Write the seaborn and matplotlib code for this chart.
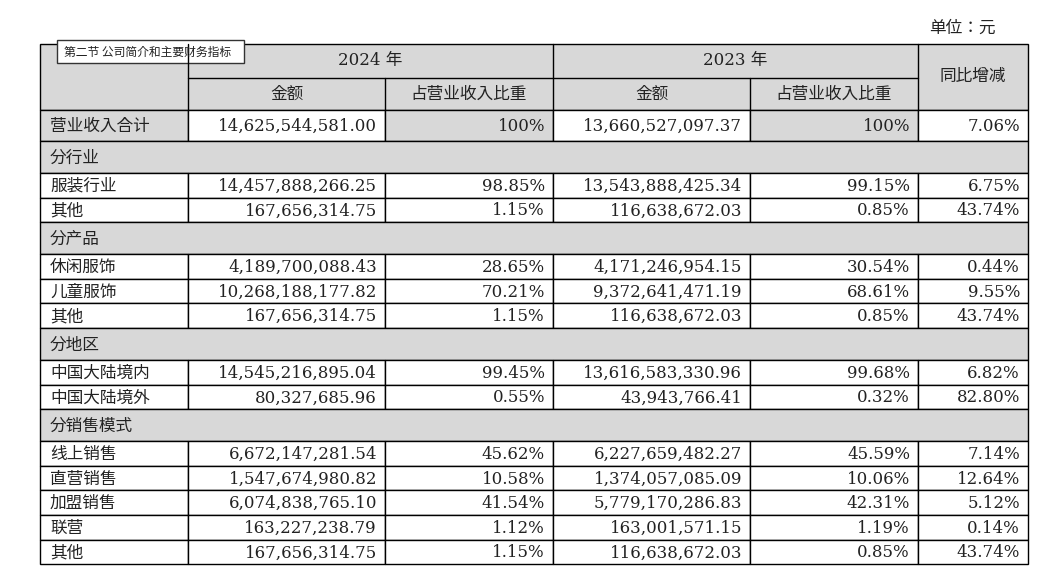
import matplotlib.pyplot as plt
import matplotlib.patches as patches
import seaborn as sns

sns.set_theme(style='white')
CJK = ['Noto Sans CJK SC', 'Noto Sans CJK JP', 'Noto Sans CJK TC', 'Noto Sans CJK KR']
plt.rcParams['font.family'] = ['DejaVu Serif'] + CJK

# Table data
row_labels = ['营业收入合计', '分行业', '服装行业', '其他', '分产品', '休闲服饰', '儿童服饰', '其他',
              '分地区', '中国大陆境内', '中国大陆境外', '分销售模式', '线上销售', '直营销售',
              '加盟销售', '联营', '其他']
amount_2024 = ['14,625,544,581.00', '', '14,457,888,266.25', '167,656,314.75', '',
               '4,189,700,088.43', '10,268,188,177.82', '167,656,314.75', '',
               '14,545,216,895.04', '80,327,685.96', '', '6,672,147,281.54',
               '1,547,674,980.82', '6,074,838,765.10', '163,227,238.79', '167,656,314.75']
share_2024 = ['100%', '', '98.85%', '1.15%', '', '28.65%', '70.21%', '1.15%', '',
              '99.45%', '0.55%', '', '45.62%', '10.58%', '41.54%', '1.12%', '1.15%']
amount_2023 = ['13,660,527,097.37', '', '13,543,888,425.34', '116,638,672.03', '',
               '4,171,246,954.15', '9,372,641,471.19', '116,638,672.03', '',
               '13,616,583,330.96', '43,943,766.41', '', '6,227,659,482.27',
               '1,374,057,085.09', '5,779,170,286.83', '163,001,571.15', '116,638,672.03']
share_2023 = ['100%', '', '99.15%', '0.85%', '', '30.54%', '68.61%', '0.85%', '',
              '99.68%', '0.32%', '', '45.59%', '10.06%', '42.31%', '1.19%', '0.85%']
yoy = ['7.06%', '', '6.75%', '43.74%', '', '0.44%', '9.55%', '43.74%', '',
       '6.82%', '82.80%', '', '7.14%', '12.64%', '5.12%', '0.14%', '43.74%']
section_idx = [1, 4, 8, 11]

# Layout in pixels
col_x = [40, 188, 385, 553, 750, 918, 1028]
top, head_mid, head_bot = 44, 78, 110
GRAY = '#d8d8d8'

fig = plt.figure(figsize=(10.5, 5.84), dpi=100)
ax = fig.add_axes([0, 0, 1, 1])
ax.set_xlim(0, 1050)
ax.set_ylim(584, 0)
ax.axis('off')

def cell(x0, y0, x1, y1, fill):
    ax.add_patch(patches.Rectangle((x0, y0), x1 - x0, y1 - y0, facecolor=fill,
                                   edgecolor='black', linewidth=1))

def text(x, y, s, ha='center', size=12):
    ax.text(x, y, s, ha=ha, va='center', fontsize=size, color='#222222')

# Header
cell(col_x[0], top, col_x[-1], head_bot, GRAY)
for xv in (col_x[1], col_x[3], col_x[5]):
    ax.plot([xv, xv], [top, head_bot], color='black', lw=1)
ax.plot([col_x[1], col_x[5]], [head_mid, head_mid], color='black', lw=1)
for xv in (col_x[2], col_x[4]):
    ax.plot([xv, xv], [head_mid, head_bot], color='black', lw=1)
text((col_x[1] + col_x[3]) / 2, 61, '2024 年')
text((col_x[3] + col_x[5]) / 2, 61, '2023 年')
for i, lab in enumerate(['金额', '占营业收入比重', '金额', '占营业收入比重']):
    text((col_x[i + 1] + col_x[i + 2]) / 2, 94, lab)
text((col_x[5] + col_x[6]) / 2, 77, '同比增减')

ax.text(996, 28, '单位：元', ha='right', va='center', fontsize=12, color='#222222')
ax.add_patch(patches.Rectangle((57, 40), 187, 23, facecolor='white', edgecolor='#333333', lw=1))
ax.text(64, 52, '第二节 公司简介和主要财务指标', ha='left', va='center', fontsize=8.5,
        family=CJK, color='#222222')

# Body
y = head_bot
for i, lab in enumerate(row_labels):
    if i == 0:
        h = 31
    elif i in section_idx:
        h = 32
    else:
        h = 24.6
    yc = y + h / 2 + 1
    if i in section_idx:
        cell(col_x[0], y, col_x[-1], y + h, GRAY)
        text(col_x[0] + 10, yc, lab, ha='left')
    else:
        first = i == 0
        fills = [GRAY if first else 'white', 'white', GRAY if first else 'white',
                 'white', GRAY if first else 'white', 'white']
        for c in range(6):
            cell(col_x[c], y, col_x[c + 1], y + h, fills[c])
        text(col_x[0] + 10, yc, lab, ha='left')
        for c, vals in enumerate([amount_2024, share_2024, amount_2023, share_2023, yoy]):
            text(col_x[c + 2] - 8, yc, vals[i], ha='right')
    y += h

plt.savefig('out.png', dpi=100)
plt.close()
